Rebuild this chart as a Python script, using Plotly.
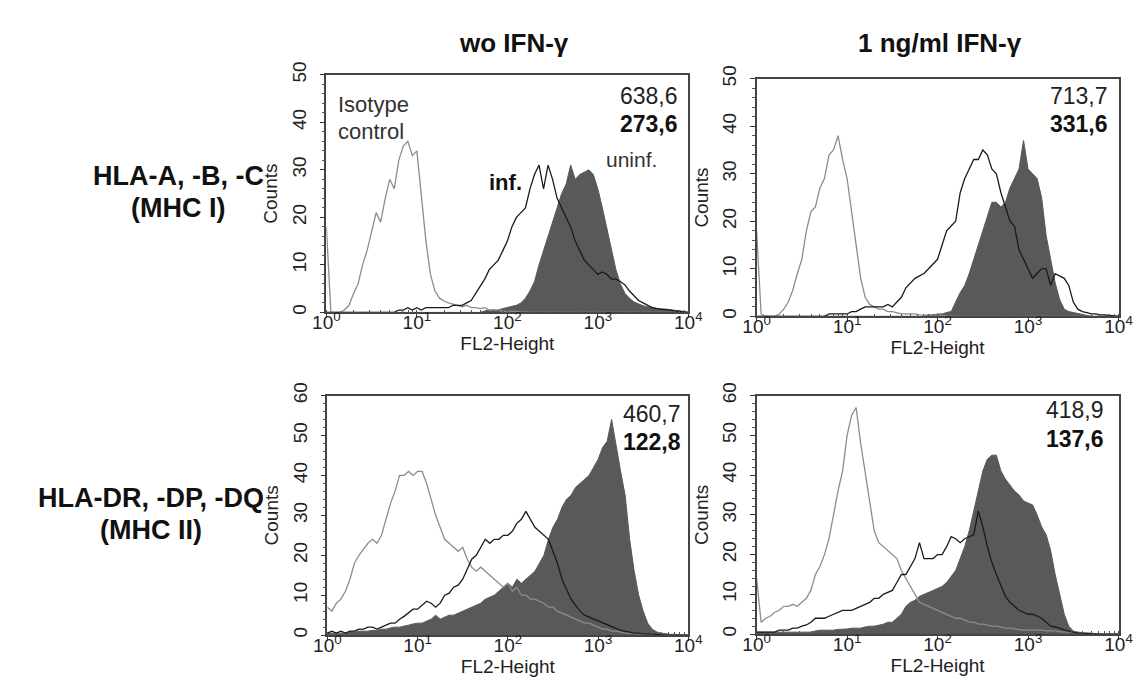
import plotly.graph_objects as go

# log10 channel positions (decades) shared by all histograms
X_DECADES = [
    0.00, 0.05, 0.10, 0.15, 0.20, 0.25, 0.30, 0.35, 0.40, 0.45, 0.50, 0.55, 0.60, 0.65, 0.70, 0.75, 0.80, 0.85, 0.90, 0.95,
    1.00, 1.05, 1.10, 1.15, 1.20, 1.25, 1.30, 1.35, 1.40, 1.45, 1.50, 1.55, 1.60, 1.65, 1.70, 1.75, 1.80, 1.85, 1.90, 1.95,
    2.00, 2.05, 2.10, 2.15, 2.20, 2.25, 2.30, 2.35, 2.40, 2.45, 2.50, 2.55, 2.60, 2.65, 2.70, 2.75, 2.80, 2.85, 2.90, 2.95,
    3.00, 3.05, 3.10, 3.15, 3.20, 3.25, 3.30, 3.35, 3.40, 3.45, 3.50, 3.55, 3.60, 3.65, 3.70, 3.75, 3.80, 3.85, 3.90, 3.95, 4.00,
]

# MHC I, without IFN-gamma
P1_ISO = [18, 0, 0, 0, 0.5, 1.5, 4, 6, 10, 13, 17, 21, 19, 24, 28, 26, 32, 35, 36, 33,
          34, 25, 15, 8, 4.5, 3, 2.4, 2, 1.7, 1.5, 1.2, 1.5, 1, 1, 0.8, 1, 0.5, 0.5, 0.5, 0.3,
          0.3, 0.2, 0.2, 0.1, 0, 0, 0, 0, 0, 0, 0, 0, 0, 0, 0, 0, 0, 0, 0, 0,
          0, 0, 0, 0, 0, 0, 0, 0, 0, 0, 0, 0, 0, 0, 0, 0, 0, 0, 0, 0, 0]
P1_INF = [0, 0, 0, 0, 0, 0, 0, 0, 0, 0, 0, 0, 0, 0, 0, 0, 0.5, 0.5, 1, 0.5,
          1, 0.5, 1, 1, 1, 1, 1, 1, 1.5, 1.5, 1.5, 2, 2.5, 4, 5.5, 7, 9, 10, 11, 13,
          15, 18, 20, 21, 22, 26, 29, 31, 26, 31, 28, 24, 22, 20, 18, 15, 13, 11, 10, 9,
          8, 8.5, 8, 7, 7, 6.5, 5.8, 4.5, 3.5, 2.5, 2, 1.5, 1, 0.8, 0.7, 0.5, 0.5, 0.3, 0.3, 0.2, 0]
P1_UNI = [0, 0, 0, 0, 0, 0, 0, 0, 0, 0, 0, 0, 0, 0, 0, 0, 0, 0, 0, 0,
          0, 0, 0, 0, 0, 0, 0, 0, 0, 0, 0, 0, 0, 0, 0, 0.3, 0.5, 0.5, 0.5, 0.8,
          1, 1.2, 1.5, 2, 3, 4.5, 6.5, 10, 13, 16, 19.5, 22.5, 25, 27, 31, 28, 29, 29.5, 30, 29,
          26, 22, 17.5, 13, 9, 6, 4, 3, 2.2, 1.8, 1.4, 1.2, 1, 0.8, 0.7, 0.7, 0.6, 0.5, 0.3, 0.2, 0]

# MHC I, 1 ng/ml IFN-gamma
P2_ISO = [18, 0.5, 0, 0, 0, 0.5, 1.5, 3, 5.5, 9, 12, 18, 22, 23, 27, 29, 34, 35, 38, 33,
          29, 22, 15, 8, 4, 2.5, 2, 1.5, 1.5, 1, 1, 0.8, 0.5, 0.5, 0.5, 0.5, 0.3, 0.3, 0.3, 0.2,
          0.2, 0.2, 0.1, 0, 0, 0, 0, 0, 0, 0, 0, 0, 0, 0, 0, 0, 0, 0, 0, 0,
          0, 0, 0, 0, 0, 0, 0, 0, 0, 0, 0, 0, 0, 0, 0, 0, 0, 0, 0, 0, 0]
P2_INF = [0, 0, 0, 0, 0, 0, 0, 0, 0, 0, 0, 0, 0, 0, 0, 0, 0.5, 0.5, 0.5, 0.5,
          0.5, 1, 1, 1.5, 2, 2, 2, 2, 2, 2.5, 2, 3, 4, 6, 7, 8, 8.5, 9, 10, 11,
          12, 15, 18, 19, 20, 26, 29, 31, 33, 33, 35, 34, 31, 30, 26, 23, 20, 19, 14, 12,
          10, 8, 9, 10, 10, 6.5, 9, 8.5, 8, 6.5, 3, 1.5, 1, 0.8, 0.5, 0.5, 0.3, 0.3, 0.2, 0, 0]
P2_UNI = [0, 0, 0, 0, 0, 0, 0, 0, 0, 0, 0, 0, 0, 0, 0, 0, 0, 0, 0, 0,
          0, 0, 0, 0, 0, 0, 0, 0, 0, 0, 0, 0, 0, 0, 0, 0, 0, 0, 0.3, 0.3,
          0.5, 0.5, 0.8, 1, 3, 5, 6.5, 9, 12, 15, 18, 21, 24, 24, 23, 24, 27, 29, 31, 37,
          31, 30, 29, 25, 17, 12, 7, 3.5, 1.5, 1, 0.8, 0.5, 0.3, 0.2, 0, 0, 0, 0, 0, 0, 0]

# MHC II, without IFN-gamma
P3_ISO = [7, 6, 8, 9, 11, 14, 18, 20, 21.5, 23, 24, 23, 25, 29, 33, 36, 40, 40, 41, 40,
          41, 41, 38, 34, 30, 27, 24, 23, 22, 21, 22, 19, 17, 16, 17, 16, 15, 14, 13, 12,
          13, 11, 12, 10, 10, 9, 9, 8.5, 8, 7, 7, 6, 5.5, 5, 4.5, 4, 3.5, 3, 3, 2.5,
          2, 1.5, 1.5, 1, 1, 0.8, 0.5, 0.5, 0.5, 0.3, 0.3, 0.2, 0.2, 0.1, 0, 0, 0, 0, 0, 0, 0]
P3_INF = [0.5, 1, 0.5, 1, 0.5, 1, 1, 1.5, 1.5, 2, 2, 1.5, 2, 2.5, 3, 3, 4, 4.7, 5.5, 6.5,
          6.5, 7.5, 8.5, 8, 7, 8, 10, 10.5, 12, 12.5, 14, 16.5, 19, 20, 22, 24, 23, 24, 24, 25,
          25, 26, 28, 29, 31, 29, 27, 26, 25, 24, 21, 18, 14, 11.5, 9, 7.5, 6, 5, 4.5, 4,
          3.5, 3, 2.7, 2, 1.5, 1.2, 1, 0.8, 0.5, 0.5, 0.3, 0.3, 0.2, 0.2, 0.1, 0, 0, 0, 0, 0, 0]
P3_UNI = [0.5, 0.5, 0.5, 0.5, 0.5, 0.8, 0.8, 1, 1, 1, 1.2, 1.2, 1.5, 1.5, 1.8, 2, 2, 2.2, 2.5, 2.8,
          3, 3, 3.5, 4, 5, 4, 4.5, 5, 5, 5.5, 6, 6.5, 7, 7.5, 8, 9, 9.5, 10, 11, 12,
          13, 12, 14, 13, 14, 15, 16, 18, 20, 24, 27, 29, 32, 34, 35, 37, 38, 39, 40, 42,
          44, 47, 48.5, 54, 47, 41, 35, 24, 16, 10, 6, 3, 1.5, 0.8, 0.5, 0.3, 0.2, 0.2, 0.1, 0, 0]

# MHC II, 1 ng/ml IFN-gamma
P4_ISO = [14, 3, 4, 4.5, 5.5, 6, 7, 7, 7.5, 7, 8, 9, 11, 15, 17, 20, 24, 30, 36, 41,
          50, 55, 57, 48, 41, 33, 26, 23, 22, 21, 20, 19, 16, 14, 12, 10, 8, 7.5, 7, 6.5,
          6, 5.5, 5, 4.5, 4, 4, 3.5, 3, 3, 2.5, 2.5, 2.3, 2, 2, 1.8, 1.5, 1.5, 1.3, 1.2, 1,
          1, 1, 1, 1, 0.8, 0.8, 0.8, 0.6, 0.6, 0.6, 0.5, 0.5, 0.3, 0.3, 0.2, 0.1, 0, 0, 0, 0, 0]
P4_INF = [0.5, 0.5, 0.5, 0.5, 0.5, 1, 1, 1, 1.5, 1.5, 2, 2.3, 3, 4, 4, 4, 4.5, 5, 5.5, 6,
          6, 6, 6.5, 7, 7.5, 8, 9, 9, 10, 10.5, 11, 13, 15, 15, 17, 19, 23, 19, 19, 19,
          20, 20, 22, 24.5, 24, 23, 24, 24.5, 25, 31, 27, 22, 18, 15, 12, 9.5, 8, 7, 6, 5.5,
          5, 5, 4.5, 4, 3, 2, 1.8, 1.5, 1, 0.7, 0.5, 0.3, 0.3, 0.2, 0.1, 0, 0, 0, 0, 0, 0]
P4_UNI = [0.5, 0.5, 0.5, 0.5, 0.5, 0.5, 0.5, 0.5, 0.5, 0.5, 0.5, 0.5, 0.5, 0.8, 1, 1, 1, 1, 1.2, 1.2,
          1.3, 1.5, 1.5, 1.5, 1.8, 2, 2, 2.2, 2.5, 3, 3, 4, 5, 7, 8, 8.5, 9.5, 10, 10.5, 11,
          11.5, 12, 13, 14.5, 16, 19, 22, 26, 31, 36, 41, 44, 45, 45, 41, 39, 37.5, 36, 35, 33.5,
          33, 32.5, 30, 27, 25, 21, 15, 10, 5, 2, 0.8, 0.5, 0.3, 0.2, 0, 0, 0, 0, 0, 0, 0]

COL_TITLES = ["wo IFN-γ", "1 ng/ml IFN-γ"]
ROW_TITLES = [("HLA-A, -B, -C", "(MHC I)"), ("HLA-DR, -DP, -DQ", "(MHC II)")]
GEO_MEANS = [("638,6", "273,6"), ("713,7", "331,6"), ("460,7", "122,8"), ("418,9", "137,6")]
Y_MAX = [50, 50, 60, 60]
X_TICKS = [1, 10, 100, 1000, 10000]
X_TICKTEXT = ["10<sup>0</sup>", "10<sup>1</sup>", "10<sup>2</sup>", "10<sup>3</sup>", "10<sup>4</sup>"]

FONT = "Arial, Liberation Sans, sans-serif"
ISO_COLOR = "#8c8c8c"
INF_COLOR = "#1a1a1a"
UNI_COLOR = "#595959"

W, H = 1146, 679
# panel boxes in pixels: left, right, top, bottom
BOXES = [(312, 683, 55, 298), (753, 1124, 59, 302), (313, 683, 383, 628), (753, 1124, 383, 627)]

x_vals = [10 ** d for d in X_DECADES]
panels = [(P1_ISO, P1_INF, P1_UNI), (P2_ISO, P2_INF, P2_UNI),
          (P3_ISO, P3_INF, P3_UNI), (P4_ISO, P4_INF, P4_UNI)]

fig = go.Figure()
layout = {}
for i, (iso, inf, uni) in enumerate(panels):
    n = "" if i == 0 else str(i + 1)
    xa, ya = "x" + n, "y" + n
    fig.add_trace(go.Scatter(x=x_vals, y=uni, xaxis=xa, yaxis=ya, mode="lines",
                             line=dict(color=UNI_COLOR, width=1), fill="tozeroy",
                             fillcolor=UNI_COLOR, showlegend=False))
    fig.add_trace(go.Scatter(x=x_vals, y=iso, xaxis=xa, yaxis=ya, mode="lines",
                             line=dict(color=ISO_COLOR, width=1.3), showlegend=False))
    fig.add_trace(go.Scatter(x=x_vals, y=inf, xaxis=xa, yaxis=ya, mode="lines",
                             line=dict(color=INF_COLOR, width=1.3), showlegend=False))

    left, right, top, bottom = BOXES[i]
    layout["xaxis" + n] = dict(
        domain=[left / W, right / W], anchor=ya, type="log", range=[0, 4],
        tickvals=X_TICKS, ticktext=X_TICKTEXT, ticks="outside", ticklen=4,
        tickcolor="#333", showgrid=False, zeroline=False, showline=True, mirror=True,
        linecolor="#444", linewidth=1.5, ticklabelstandoff=-12,
        minor=dict(ticks="inside", ticklen=3, tickcolor="#555", dtick="D1", showgrid=False),
        tickfont=dict(size=19, color="#222", family=FONT),
        title=dict(text="FL2-Height", font=dict(size=19, color="#222", family=FONT), standoff=0),
    )
    layout["yaxis" + n] = dict(
        domain=[1 - bottom / H, 1 - top / H], anchor=xa, range=[0, Y_MAX[i]],
        dtick=10, tickangle=-90, ticks="outside", ticklen=5, tickcolor="#333",
        showgrid=False, zeroline=False, showline=True, mirror=True,
        linecolor="#444", linewidth=1.5, ticklabelstandoff=6,
        minor=dict(ticks="outside", ticklen=3, tickcolor="#555", dtick=2, showgrid=False),
        tickfont=dict(size=19, color="#222", family=FONT),
        title=dict(text="Counts", font=dict(size=19, color="#222", family=FONT), standoff=6),
    )

annotations = []
# geometric mean values (uninfected / infected)
num_pos = [(0.978, 0.909, 0.794), (0.976, 0.926, 0.811), (0.984, 0.922, 0.808), (0.965, 0.939, 0.816)]
for i, (uninf_val, inf_val) in enumerate(GEO_MEANS):
    n = "" if i == 0 else str(i + 1)
    xr, yr = "x" + n + " domain", "y" + n + " domain"
    px, py1, py2 = num_pos[i]
    annotations.append(dict(text=uninf_val, x=px, y=py1, xref=xr, yref=yr, xanchor="right",
                            yanchor="middle", showarrow=False,
                            font=dict(size=23, color="#222", family=FONT)))
    annotations.append(dict(text="<b>" + inf_val + "</b>", x=px, y=py2, xref=xr, yref=yr,
                            xanchor="right", yanchor="middle", showarrow=False,
                            font=dict(size=23, color="#111", family=FONT)))

# curve labels in first panel
annotations += [
    dict(text="Isotype", x=0.027, y=0.877, xref="x domain", yref="y domain", xanchor="left",
         yanchor="middle", showarrow=False, font=dict(size=22, color="#333", family=FONT)),
    dict(text="control", x=0.027, y=0.761, xref="x domain", yref="y domain", xanchor="left",
         yanchor="middle", showarrow=False, font=dict(size=22, color="#333", family=FONT)),
    dict(text="uninf.", x=0.844, y=0.642, xref="x domain", yref="y domain", xanchor="center",
         yanchor="middle", showarrow=False, font=dict(size=21, color="#333", family=FONT)),
    dict(text="<b>inf.</b>", x=0.496, y=0.547, xref="x domain", yref="y domain",
         xanchor="center", yanchor="middle", showarrow=False,
         font=dict(size=22, color="#111", family=FONT)),
]

# column and row headers
for txt, cx in zip(COL_TITLES, [504, 941]):
    annotations.append(dict(text="<b>" + txt + "</b>", x=cx / W, y=1 - 22 / H, xref="paper",
                            yref="paper", xanchor="center", yanchor="middle", showarrow=False,
                            font=dict(size=26, color="#111", family=FONT)))
for (line1, line2), cx, (cy1, cy2) in zip(ROW_TITLES, [160, 132], [(158, 191), (488, 521)]):
    for txt, cy in ((line1, cy1), (line2, cy2)):
        annotations.append(dict(text="<b>" + txt + "</b>", x=cx / W, y=1 - cy / H, xref="paper",
                                yref="paper", xanchor="center", yanchor="middle",
                                showarrow=False,
                                font=dict(size=27, color="#111", family=FONT)))

fig.update_layout(
    width=W, height=H, margin=dict(l=0, r=0, t=0, b=0),
    paper_bgcolor="white", plot_bgcolor="white", showlegend=False,
    annotations=annotations, **layout,
)

fig.write_html("out.html")
